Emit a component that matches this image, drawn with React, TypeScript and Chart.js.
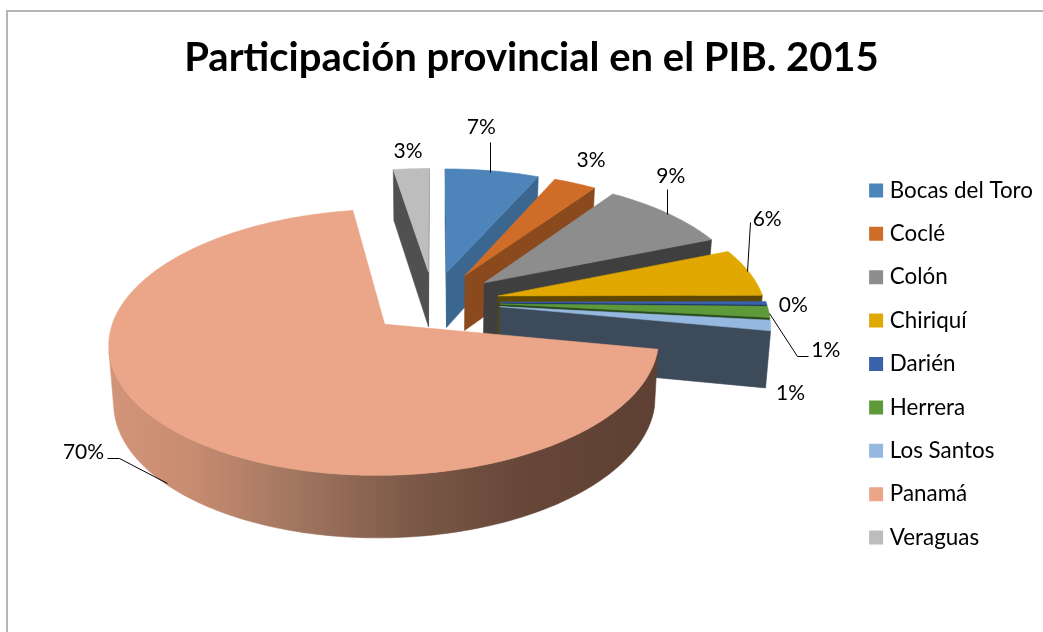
import React, { useEffect, useRef } from "react";
import { Chart, registerables } from "chart.js";

Chart.register(...registerables);

const categories = ["Bocas del Toro", "Coclé", "Colón", "Chiriquí", "Darién", "Herrera", "Los Santos", "Panamá", "Veraguas"];
const shares = [6.6, 3, 9.2, 6.1, 0.4, 1.4, 1.3, 69.5, 2.5];
const faceColors = ["#4D85BA", "#CF6D28", "#8D8D8D", "#E0A800", "#3A62AC", "#5F9A3A", "#95B8E0", "#EBA588", "#BDBDBD"];
const wallColors = ["#3A668F", "#8A4A1E", "#3F3F3F", "#5E4800", "#1C3260", "#2A4A1C", "#3D4A5A", "#7A5040", "#505050"];

// Projection of the pie plane on the page (perspective, seen from the front and above)
const VIEW = { cx: 433.5, cy: 302, rx: 266, ry: 124.6, persp: 0.133, explode: 0.25, depth: 56, shrink: 0.985 };

// Data-label placement relative to the slice's rim anchor
const labelOffsets = [[-11, -44], [16, -23], [3, -37], [18, -53], [27, 2], [57, 38], [20, 68], [-80, 28], [-3, -18]];
const leaderOffsets: number[][][] = [
  [[-2, 1], [-2, -29]],
  [],
  [[-1, 1], [-1, -24]],
  [[-2, -1], [1, -50]],
  [],
  [[0, 1], [28, 44], [39, 44]],
  [],
  [[4, 58], [-44, 33], [-56, 33]],
  [],
];

type Pt = [number, number];

function project(x: number, y: number, low = false): Pt {
  const s = 1 / (1 - VIEW.persp * y);
  const sx = VIEW.rx * x * s;
  const sy = VIEW.ry * y * s;
  if (!low) return [VIEW.cx + sx, VIEW.cy + sy];
  return [VIEW.cx + sx * VIEW.shrink, VIEW.cy + sy + VIEW.depth * Math.pow(s, 0.65)];
}

function area(p: Pt[]) {
  let a = 0;
  for (let i = 0; i < p.length; i++) {
    const q = p[(i + 1) % p.length];
    a += p[i][0] * q[1] - q[0] * p[i][1];
  }
  return a / 2;
}

function fillPoly(ctx: CanvasRenderingContext2D, p: Pt[], fill: string | CanvasGradient) {
  ctx.beginPath();
  p.forEach((q, i) => (i ? ctx.lineTo(q[0], q[1]) : ctx.moveTo(q[0], q[1])));
  ctx.closePath();
  ctx.fillStyle = fill;
  ctx.strokeStyle = fill;
  ctx.lineWidth = 0.6;
  ctx.fill();
  ctx.stroke();
}

const pie3d = {
  id: "pie3d",
  beforeDatasetsDraw(chart: any) {
    const ctx: CanvasRenderingContext2D = chart.ctx;
    const arcs: any[] = chart.getDatasetMeta(0).data;
    const e = VIEW.explode;
    const geo = arcs.map((a, index) => {
      const mid = (a.startAngle + a.endAngle) / 2;
      const ox = e * Math.cos(mid);
      const oy = e * Math.sin(mid);
      const at = (ang: number, r: number, low = false) => project(r * Math.cos(ang) + ox, r * Math.sin(ang) + oy, low);
      return { a, index, mid, at };
    });
    const order = [...geo].sort((p, q) => Math.sin(p.mid) - Math.sin(q.mid));

    ctx.save();
    for (const g of order) {
      const { a, index, at } = g;
      const wall = wallColors[index];
      const A = at(0, 0);
      const D = at(0, 0, true);
      const startWall: Pt[] = [A, at(a.startAngle, 1), at(a.startAngle, 1, true), D];
      const endWall: Pt[] = [A, at(a.endAngle, 1), at(a.endAngle, 1, true), D];
      if (area(startWall) < 0) fillPoly(ctx, startWall, wall);
      if (area(endWall) > 0) fillPoly(ctx, endWall, wall);

      const n = Math.max(2, Math.ceil(((a.endAngle - a.startAngle) * 180) / Math.PI));
      const angs = Array.from({ length: n + 1 }, (_, i) => a.startAngle + ((a.endAngle - a.startAngle) * i) / n);
      const visible: number[] = [];
      for (let i = 0; i < n; i++) {
        const quad: Pt[] = [at(angs[i], 1), at(angs[i + 1], 1), at(angs[i + 1], 1, true), at(angs[i], 1, true)];
        if (area(quad) < 0) {
          if (!visible.length) visible.push(angs[i]);
          visible.push(angs[i + 1]);
        }
      }
      if (visible.length) {
        const rim: Pt[] = visible.map((t) => at(t, 1));
        const lowRim: Pt[] = visible.map((t) => at(t, 1, true)).reverse();
        let fill: string | CanvasGradient = wall;
        if (n > 60) {
          const grad = ctx.createLinearGradient(108, 0, 658, 0);
          grad.addColorStop(0, "#D39579");
          grad.addColorStop(0.15, "#C88C71");
          grad.addColorStop(0.35, "#A0755F");
          grad.addColorStop(0.55, "#7C5948");
          grad.addColorStop(0.75, "#664738");
          grad.addColorStop(1, "#5E4034");
          fill = grad;
        }
        fillPoly(ctx, [...rim, ...lowRim], fill);
      }
      const face: Pt[] = [A, ...angs.map((t) => at(t, 1))];
      fillPoly(ctx, face, faceColors[index]);
    }

    // leaders and data labels
    ctx.strokeStyle = "#000";
    ctx.lineWidth = 1;
    ctx.fillStyle = "#000";
    ctx.font = "21px Lato";
    ctx.textAlign = "center";
    ctx.textBaseline = "middle";
    for (const g of geo) {
      const anchor = g.at(g.mid, 1);
      const leader = leaderOffsets[g.index];
      if (leader.length) {
        ctx.beginPath();
        leader.forEach((o, i) => {
          const px = Math.round(anchor[0] + o[0]) + 0.5;
          const py = Math.round(anchor[1] + o[1]) + 0.5;
          if (i) ctx.lineTo(px, py);
          else ctx.moveTo(px, py);
        });
        ctx.stroke();
      }
      const off = labelOffsets[g.index];
      ctx.fillText(`${Math.round(shares[g.index])}%`, anchor[0] + off[0], anchor[1] + off[1]);
    }
    ctx.restore();
    return false;
  },
};

export default function App() {
  const ref = useRef<HTMLCanvasElement>(null);
  useEffect(() => {
    const chart = new Chart(ref.current!, {
      type: "pie",
      data: {
        labels: categories,
        datasets: [{ data: shares, backgroundColor: faceColors, borderWidth: 0 }],
      },
      plugins: [pie3d],
      options: {
        responsive: false,
        animation: false,
        rotation: 0,
        layout: { padding: { top: 0, right: 20, bottom: 0, left: 20 } },
        plugins: {
          tooltip: { enabled: false },
          title: {
            display: true,
            text: "Participación provincial en el PIB. 2015",
            color: "#000",
            font: { family: "Lato", size: 40, weight: "bold" },
            padding: { top: 34, bottom: 14 },
          },
          legend: {
            position: "right",
            fullSize: false,
            labels: {
              color: "#000",
              font: { family: "Lato", size: 22.4 },
              boxWidth: 5,
              boxHeight: 5,
              padding: 21,
              generateLabels: (c: any) =>
                (Chart.overrides.pie.plugins.legend.labels.generateLabels as any)(c).map((it: any) => ({
                  ...it,
                  lineWidth: 9,
                  strokeStyle: it.fillStyle,
                })),
            },
          },
        },
      },
    } as any);
    return () => chart.destroy();
  }, []);
  return (
    <div style={{ position: "fixed", left: 0, top: 0, width: 1043, height: 632, overflow: "hidden", background: "#fff" }}>
      <div style={{ position: "absolute", left: 6, top: 10, width: 1100, height: 700, borderLeft: "2px solid #b5b5b5", borderTop: "2px solid #b5b5b5" }} />
      <canvas ref={ref} width={1063} height={632} style={{ position: "absolute", left: 0, top: 0, width: 1063, height: 632 }} />
    </div>
  );
}
